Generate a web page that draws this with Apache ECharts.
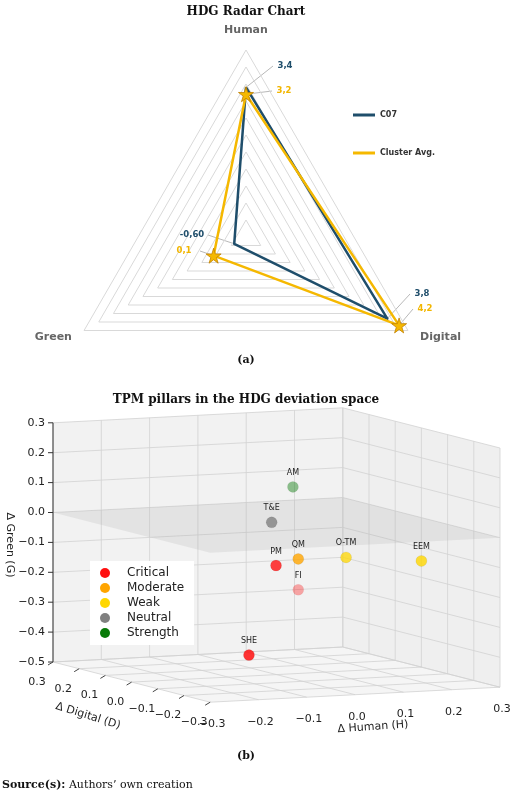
<!DOCTYPE html>
<html><head><meta charset="utf-8">
<script src="https://cdn.jsdelivr.net/npm/echarts@6/dist/echarts.min.js"></script>
<style>html,body{margin:0;padding:0;background:#fff}#c{width:520px;height:793px}</style>
</head><body><div id="c"></div>
<script>
// ---------- Radar data ----------
const radarAxes = ['Human', 'Green', 'Digital'];
const radarMin = -1, radarMax = 4.5;
const c07Values = [3.4, -0.6, 3.8];
const clusterValues = [3.2, 0.1, 4.2];
const c07Labels = ['3,4', '-0,60', '3,8'];
const clusterLabels = ['3,2', '0,1', '4,2'];

// ---------- 3D scatter data ----------
const pillarNames = ['AM', 'T&E', 'PM', 'QM', 'FI', 'O-TM', 'EEM', 'SHE'];
const deltaHuman  = [0.034, -0.01, -0.001, 0.045, 0.045, 0.144, 0.30, -0.057];
const deltaDigital= [0, 0, 0, 0, 0, 0, 0, 0];
const deltaGreen  = [0.125, 0.01, -0.135, -0.117, -0.22, -0.12, -0.145, -0.43];
const pillarClass = ['Strength', 'Neutral', 'Critical', 'Moderate', 'Critical', 'Weak', 'Weak', 'Critical'];
const pillarAlpha = [0.45, 0.8, 0.8, 0.8, 0.35, 0.75, 0.8, 0.85];
const classNames = ['Critical', 'Moderate', 'Weak', 'Neutral', 'Strength'];
const classColors = ['#ff1010', '#ffa500', '#ffd700', '#808080', '#087a08'];
const hTicks = [-0.3, -0.2, -0.1, 0.0, 0.1, 0.2, 0.3];
const dTicks = [0.3, 0.2, 0.1, 0.0, -0.1, -0.2, -0.3];
const gTicks = [-0.5, -0.4, -0.3, -0.2, -0.1, 0.0, 0.1, 0.2, 0.3];

// projection of (H, D, G) into page space
function proj(H, D, G) {
  const h = H + 0.3, d = 0.3 - D, g = G + 0.5;
  return [53 + h * 483 + d * 262, 662 - h * 25 + d * 67 - g * 299];
}
const fmt = v => (v < 0 ? '\u2212' : '') + Math.abs(v).toFixed(1);

const polys = [
  {pts: [proj(-0.3,0.3,-0.5), proj(0.3,0.3,-0.5), proj(0.3,0.3,0.3), proj(-0.3,0.3,0.3)], fill: '#f2f2f2'},
  {pts: [proj(0.3,0.3,-0.5), proj(0.3,-0.3,-0.5), proj(0.3,-0.3,0.3), proj(0.3,0.3,0.3)], fill: '#efefef'},
  {pts: [proj(-0.3,0.3,-0.5), proj(0.3,0.3,-0.5), proj(0.3,-0.3,-0.5), proj(-0.3,-0.3,-0.5)], fill: '#f5f5f5'}
];
const plane = [proj(-0.3,0.3,0), proj(0.3,0.3,0), proj(0.3,-0.3,0), proj(-0.3,-0.3,0)];
const segs = [];
hTicks.forEach(h => { segs.push([...proj(h,0.3,-0.5), ...proj(h,0.3,0.3)]); segs.push([...proj(h,0.3,-0.5), ...proj(h,-0.3,-0.5)]); });
dTicks.forEach(d => { segs.push([...proj(0.3,d,-0.5), ...proj(0.3,d,0.3)]); segs.push([...proj(-0.3,d,-0.5), ...proj(0.3,d,-0.5)]); });
gTicks.forEach(g => { segs.push([...proj(-0.3,0.3,g), ...proj(0.3,0.3,g)]); segs.push([...proj(0.3,0.3,g), ...proj(0.3,-0.3,g)]); });

const graphics = [];
const gA = proj(-0.3,0.3,-0.5), gB = proj(-0.3,0.3,0.3);
graphics.push({type:'line', shape:{x1:gA[0],y1:gA[1],x2:gB[0],y2:gB[1]}, style:{stroke:'#333',lineWidth:1}, z:100});
gTicks.forEach(g => { const p = proj(-0.3,0.3,g);
  graphics.push({type:'line', shape:{x1:p[0]-5,y1:p[1],x2:p[0],y2:p[1]}, style:{stroke:'#333'}, z:100});
  graphics.push({type:'text', x:p[0]-8, y:p[1], style:{text:fmt(g), align:'right', verticalAlign:'middle', font:'11px "DejaVu Sans"', fill:'#222'}, z:100});
});
dTicks.forEach(d => { const p = proj(-0.3,d,-0.5);
  graphics.push({type:'line', shape:{x1:p[0],y1:p[1],x2:p[0]-5,y2:p[1]+3}, style:{stroke:'#444'}, z:100});
  graphics.push({type:'text', x:p[0]-16, y:p[1]+20, style:{text:fmt(d), align:'center', verticalAlign:'middle', font:'11px "DejaVu Sans"', fill:'#222'}, z:100});
});
hTicks.forEach(h => { const p = proj(h,-0.3,-0.5);
  graphics.push({type:'text', x:p[0]+2, y:p[1]+22, style:{text:fmt(h), align:'center', verticalAlign:'middle', font:'11px "DejaVu Sans"', fill:'#222'}, z:100});
});
graphics.push({type:'text', x:373, y:727, rotation:0.07, style:{text:'\u0394 Human (H)', align:'center', verticalAlign:'middle', font:'11px "DejaVu Sans"', fill:'#222'}, z:100});
graphics.push({type:'text', x:88, y:716, rotation:-0.3, style:{text:'\u0394 Digital (D)', align:'center', verticalAlign:'middle', font:'11px "DejaVu Sans"', fill:'#222'}, z:100});
graphics.push({type:'text', x:10, y:545, rotation:-Math.PI/2, style:{text:'\u0394 Green (G)', align:'center', verticalAlign:'middle', font:'11px "DejaVu Sans"', fill:'#222'}, z:100});

graphics.push({type:'text', x:246, y:12, style:{text:'HDG Radar Chart', align:'center', verticalAlign:'middle', font:'bold 12px "DejaVu Serif"', fill:'#111'}, z:100});
graphics.push({type:'text', x:246, y:360, style:{text:'(a)', align:'center', verticalAlign:'middle', font:'bold 11px "DejaVu Serif"', fill:'#111'}, z:100});
graphics.push({type:'text', x:246, y:400, style:{text:'TPM pillars in the HDG deviation space', align:'center', verticalAlign:'middle', font:'bold 12px "DejaVu Serif"', fill:'#111'}, z:100});
graphics.push({type:'text', x:246, y:756, style:{text:'(b)', align:'center', verticalAlign:'middle', font:'bold 11px "DejaVu Serif"', fill:'#111'}, z:100});
graphics.push({type:'text', x:2, y:785, style:{text:'{b|Source(s):} Authors\u2019 own creation', rich:{b:{font:'bold 11px "DejaVu Serif"', fill:'#111'}}, verticalAlign:'middle', font:'11px "DejaVu Serif"', fill:'#111'}, z:100});

const rc = [246, 237], rr = 187, angs = [90, 210, 330];
function rpt(i, v) { const r = (v - radarMin) / (radarMax - radarMin) * rr, a = angs[i] * Math.PI / 180; return [rc[0] + r * Math.cos(a), rc[1] - r * Math.sin(a)]; }
const labelPos = {c07: [[285,66],[192,235],[422,294]], cl: [[284,91],[184,251],[425,309]]};
[[c07Values, c07Labels, labelPos.c07, '#1f4e6b'], [clusterValues, clusterLabels, labelPos.cl, '#f2b600']].forEach(([vals, labs, pos, col]) => {
  vals.forEach((v, i) => { const p = rpt(i, v), l = pos[i];
    const lx = i === 1 ? l[0] + 16 : l[0] - 12;
    graphics.push({type:'line', shape:{x1:p[0],y1:p[1],x2:lx,y2:l[1]}, style:{stroke:'#999',lineWidth:0.7}});
    graphics.push({type:'text', x:l[0], y:l[1], style:{text:labs[i], align:'center', verticalAlign:'middle', font:'bold 8.5px "DejaVu Sans"', fill:col}, z:10});
  });
});

const scatterSeries = classNames.map((cn, ci) => ({
  type: 'scatter', name: cn, z: 5, symbolSize: 11,
  itemStyle: {color: classColors[ci]},
  label: {show: true, position: 'top', distance: 4, formatter: p => p.data.name, fontSize: 8, color: '#222', opacity: 1, fontFamily: 'DejaVu Sans'},
  data: pillarNames.map((n, i) => pillarClass[i] === cn ? {name: n, value: proj(deltaHuman[i], deltaDigital[i], deltaGreen[i]), itemStyle: {opacity: pillarAlpha[i], borderColor: 'rgba(0,0,0,0.08)'}, label: {opacity: 1}} : null).filter(Boolean)
}));

const chart = echarts.init(document.getElementById('c'));
chart.setOption({
  animation: false,
  grid: {left: 0, top: 0, width: 520, height: 793},
  xAxis: {type: 'value', min: 0, max: 520, show: false},
  yAxis: {type: 'value', min: 0, max: 793, inverse: true, show: false},
  legend: [
    {data: ['C07', 'Cluster Avg.'], orient: 'vertical', left: 348, top: 106, itemGap: 30, itemWidth: 22, itemHeight: 3, icon: 'rect',
     itemStyle: {borderWidth: 0},
     textStyle: {fontSize: 8, fontWeight: 'bold', color: '#333', fontFamily: 'DejaVu Sans'}},
    {data: classNames, orient: 'vertical', left: 90, top: 561, itemGap: 3, itemWidth: 10, itemHeight: 10, icon: 'circle',
     itemStyle: {opacity: 1}, z: 20,
     backgroundColor: '#fff', padding: [6, 10, 6, 10], textStyle: {fontSize: 12, color: '#222', fontFamily: 'DejaVu Sans', padding: [0, 0, 0, 12]}}
  ],
  radar: {
    center: [246, 237], radius: 187, startAngle: 90, shape: 'polygon', splitNumber: 11,
    indicator: radarAxes.map(n => ({name: n, min: radarMin, max: radarMax})),
    axisName: {color: '#666', fontWeight: 'bold', fontSize: 11, fontFamily: 'DejaVu Sans'}, nameGap: 14,
    splitLine: {lineStyle: {color: '#d9d9d9', width: 1}}, splitArea: {show: false},
    axisLine: {show: false}, axisTick: {show: false}, axisLabel: {show: false}
  },
  graphic: graphics,
  series: [
    {type: 'custom', z: 1, silent: true, data: polys.map((p, i) => [i, 0]),
     renderItem: (params, api) => ({type: 'polygon', shape: {points: polys[params.dataIndex].pts.map(q => api.coord(q))}, style: {fill: polys[params.dataIndex].fill}})},
    {type: 'custom', z: 2, silent: true, data: segs, encode: {x: [0, 2], y: [1, 3]},
     renderItem: (params, api) => { const a = api.coord([api.value(0), api.value(1)]), b = api.coord([api.value(2), api.value(3)]);
       return {type: 'line', shape: {x1: a[0], y1: a[1], x2: b[0], y2: b[1]}, style: {stroke: '#d2d2d2', lineWidth: 0.8}}; }},
    {type: 'custom', z: 3, silent: true, data: [[0, 0]],
     renderItem: (params, api) => ({type: 'polygon', shape: {points: plane.map(q => api.coord(q))}, style: {fill: 'rgba(170,170,170,0.2)'}})},
    ...scatterSeries,
    {type: 'radar', name: 'C07', symbol: 'none', lineStyle: {color: '#1f4e6b', width: 2.5}, itemStyle: {color: '#1f4e6b'},
     data: [{value: c07Values, name: 'C07'}]},
    {type: 'radar', name: 'Cluster Avg.', symbol: 'path://M50,0 L61,35 L98,35 L68,57 L79,91 L50,70 L21,91 L32,57 L2,35 L39,35 Z', symbolSize: 15,
     lineStyle: {color: '#f5b800', width: 2.5}, itemStyle: {color: '#f5b800', borderColor: '#c08000', borderWidth: 0.8},
     data: [{value: clusterValues, name: 'Cluster Avg.'}]}
  ]
});
</script></body></html>
